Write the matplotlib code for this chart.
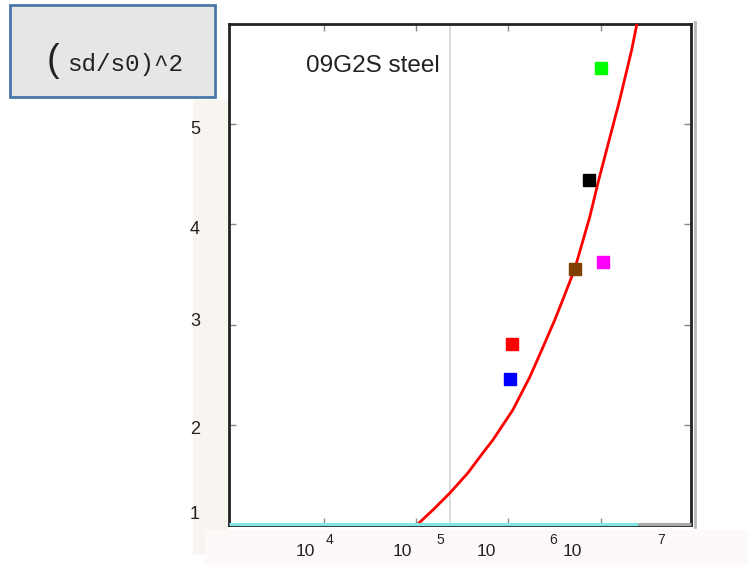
import matplotlib
matplotlib.use('Agg')
import matplotlib.pyplot as plt
from matplotlib.patches import Rectangle
from matplotlib.lines import Line2D
import matplotlib.transforms as mtransforms

# fitted curve
curve_x = [1.043e5, 1.517e5, 2.317e5, 3.631e5, 5.28e5, 6.78e5, 8.70e5, 1.116e6,
           1.706e6, 2.30e6, 3.18e6, 3.88e6, 5.24e6, 7.62e6, 9.53e6,
           1.61e7, 2.17e7, 2.46e7]
curve_y = [1.01, 1.15, 1.319, 1.519, 1.719, 1.848, 1.998, 2.148,
           2.477, 2.747, 3.046, 3.246, 3.555, 4.074, 4.443,
           5.242, 5.741, 5.99]

# measured points
pt_x = [1.0e7, 7.4e6, 5.25e6, 1.05e7, 1.09e6, 1.04e6]
pt_y = [5.56, 4.44, 3.555, 3.625, 2.806, 2.457]
pt_colors = ['#00ff00', '#000000', '#7f3f00', '#ff00ff', '#ff0000', '#0000ff']

xticks = [1e4, 1e5, 1e6, 1e7]
yticks = [1, 2, 3, 4, 5]
# garbled tick labels as they appear: (x position, text, superscript?)
xlabel_items = [(6.22e3, '10', False), (1.16e4, '4', True), (7.0e4, '10', False),
                (1.81e5, '5', True), (5.83e5, '10', False), (3.03e6, '6', True),
                (4.99e6, '10', False), (4.48e7, '7', True)]
ylabel_items = [(5, 4.95), (4, 3.95), (3, 3.03), (2, 1.95), (1, 1.10)]

vline_x = 2.32e5
cyan_end = 2.52e7

fig = plt.figure(figsize=(7.48, 5.65), dpi=100)
fig.patch.set_facecolor('white')

# light background strips around the axes
fig.patches.append(Rectangle((193 / 748, 1 - 555 / 565), 36 / 748, 455 / 565,
                             transform=fig.transFigure, facecolor='#f8f4f0',
                             edgecolor='none', zorder=-1))
fig.patches.append(Rectangle((205 / 748, 0), 543 / 748, 35 / 565,
                             transform=fig.transFigure, facecolor='#fdf9f8',
                             edgecolor='none', zorder=-1))

ax = fig.add_axes([229 / 748, 1 - 525 / 565, 462 / 748, 501 / 565])
ax.set_xscale('log')
ax.set_xlim(10 ** 2.97, 10 ** 7.98)
ax.set_ylim(1, 6)

ax.axvline(vline_x, color='#d4d4d4', linewidth=1.2, zorder=1)
ax.plot(curve_x, curve_y, color='#ff0000', linewidth=2, zorder=3)
for x, y, c in zip(pt_x, pt_y, pt_colors):
    ax.plot(x, y, marker='s', markersize=8.5, color=c, linestyle='none', zorder=4)

# coloured line on the bottom edge
ax.plot([10 ** 2.97, cyan_end], [1.005, 1.005], color='#80e6e8', linewidth=2.2,
        zorder=5, clip_on=False, solid_capstyle='butt')
ax.plot([cyan_end, 10 ** 7.98], [1.005, 1.005], color='#a8a8a8', linewidth=2.2,
        zorder=5, clip_on=False, solid_capstyle='butt')

ax.set_xticks(xticks)
ax.set_yticks(yticks)
ax.minorticks_off()
ax.set_xticklabels([])
ax.set_yticklabels([])
ax.tick_params(direction='in', length=5, width=1, color='#888888',
               top=True, right=True)
for s in ax.spines.values():
    s.set_linewidth(2)
    s.set_color('#222222')

ax.text(0.166, 0.917, '09G2S steel', transform=ax.transAxes,
        fontsize=17.5, family='Liberation Sans', color='#222222', va='center')

# tick labels placed where they sit in the picture
trans_x = mtransforms.blended_transform_factory(ax.transData, fig.transFigure)
for x, txt, sup in xlabel_items:
    y = 1 - 540 / 565 if sup else 1 - 552 / 565
    fs = 10 if sup else 12.5
    fig.text(x, y, txt, transform=trans_x, fontsize=fs, family='Liberation Sans',
             ha='center', va='center', color='#222222')
trans_y = mtransforms.blended_transform_factory(fig.transFigure, ax.transData)
for val, ypos in ylabel_items:
    fig.text(195 / 748, ypos, str(val), transform=trans_y, fontsize=13,
             family='Liberation Sans', ha='center', va='center', color='#222222')

# shadow next to the right frame
fig.add_artist(Line2D([695 / 748, 695 / 748], [1 - 527 / 565, 1 - 22 / 565],
                      transform=fig.transFigure, color='#b8b8b8', linewidth=2))

# label box at the top left
fig.patches.append(Rectangle((10 / 748, 1 - 97 / 565), 205 / 748, 92 / 565,
                             transform=fig.transFigure, facecolor='#e6e6e6',
                             edgecolor='#4a77a8', linewidth=2, zorder=2))
fig.text(53 / 748, 1 - 61 / 565, '(', fontsize=27, family='Liberation Sans',
         ha='center', va='center', color='#222222')
fig.text(125 / 748, 1 - 64 / 565, 'sd/s0)^2', fontsize=17.5, family='Liberation Mono',
         ha='center', va='center', color='#222222')

fig.savefig('out.png', dpi=100)
